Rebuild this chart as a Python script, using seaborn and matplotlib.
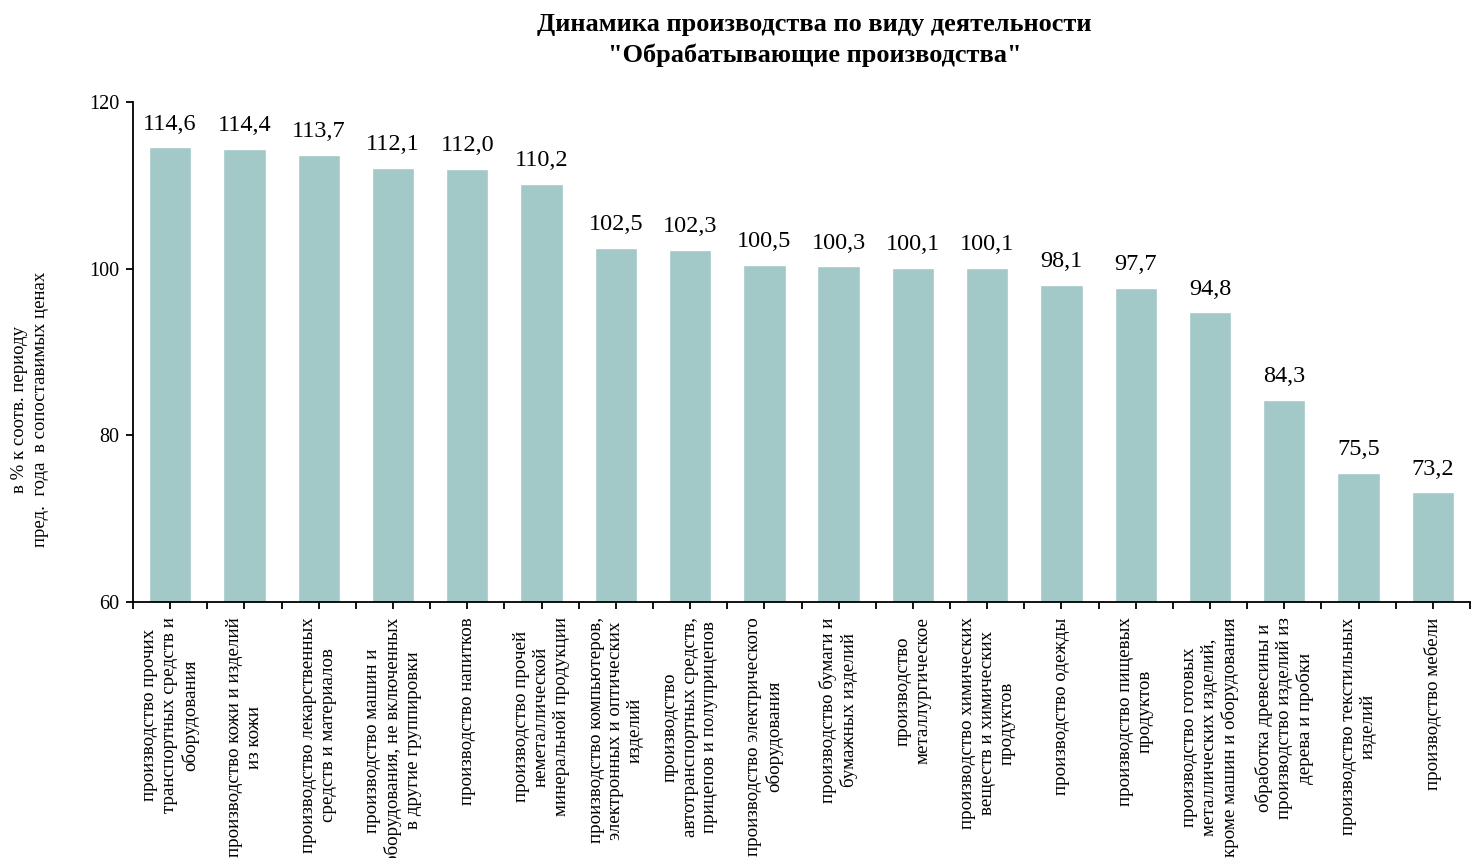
import numpy as np
import pandas as pd
import matplotlib
matplotlib.use('Agg')
import matplotlib.pyplot as plt
import seaborn as sns

# Данные
categories = [
    'производство прочих\nтранспортных средств и\nоборудования',
    'производство кожи и изделий\nиз кожи',
    'производство лекарственных\nсредств и материалов',
    'производство машин и\nоборудования, не включенных\nв другие группировки',
    'производство напитков',
    'производство прочей\nнеметаллической\nминеральной продукции',
    'производство компьютеров,\nэлектронных и оптических\nизделий',
    'производство\nавтотранспортных средств,\nприцепов и полуприцепов',
    'производство электрического\nоборудования',
    'производство бумаги и\nбумажных изделий',
    'производство\nметаллургическое',
    'производство химических\nвеществ и химических\nпродуктов',
    'производство одежды',
    'производство пищевых\nпродуктов',
    'производство готовых\nметаллических изделий,\nкроме машин и оборудования',
    'обработка древесины и\nпроизводство изделий из\nдерева и пробки',
    'производство текстильных\nизделий',
    'производство мебели',
]
values = [114.6, 114.4, 113.7, 112.1, 112.0, 110.2, 102.5, 102.3, 100.5,
          100.3, 100.1, 100.1, 98.1, 97.7, 94.8, 84.3, 75.5, 73.2]
y_ticks = [60, 80, 100, 120]

TITLE = 'Динамика производства по виду деятельности\n"Обрабатывающие производства"'
YLABEL = 'в % к соотв. периоду\nпред.  года  в сопоставимых ценах'
BAR_COLOR = '#A2C8C8'

sns.set_style('ticks')
plt.rcParams['font.family'] = ['Liberation Serif', 'DejaVu Serif']
plt.rcParams['text.color'] = 'black'
plt.rcParams['axes.labelcolor'] = 'black'
plt.rcParams['xtick.color'] = 'black'
plt.rcParams['ytick.color'] = 'black'

df = pd.DataFrame({'cat': categories, 'val': values})

fig, ax = plt.subplots(figsize=(14.78, 8.58), dpi=100)
fig.subplots_adjust(left=0.09, right=0.9946, top=0.881, bottom=0.2984)

sns.barplot(data=df, x='cat', y='val', color=BAR_COLOR, width=0.57,
            saturation=1, ax=ax)

ax.set_ylim(60, 120)
ax.set_xlim(-0.5, len(categories) - 0.5)
ax.set_yticks(y_ticks)
ax.set_yticklabels([str(t) for t in y_ticks], fontsize=14.5)
ax.set_xticks(range(len(categories)))
ax.set_xticklabels(categories, rotation=90, fontsize=13.7, ha='center', va='top')
ax.set_xticks(np.arange(-0.5, len(categories), 1), minor=True)
ax.tick_params(axis='x', which='both', length=5, width=1.3, direction='out', pad=6)
ax.tick_params(axis='y', length=5, width=1.3, direction='out', pad=5)

for side in ['top', 'right']:
    ax.spines[side].set_visible(False)
for side in ['left', 'bottom']:
    ax.spines[side].set_linewidth(1.3)
    ax.spines[side].set_color('black')

ax.bar_label(ax.containers[0], labels=[f'{v:.1f}'.replace('.', ',') for v in values],
             padding=9, fontsize=17.5, color='black')

ax.set_xlabel('')
ax.set_ylabel(YLABEL, fontsize=13.5, linespacing=1.3)
ax.yaxis.set_label_coords(-0.063, 0.385)

fig.text(0.551, 0.953, TITLE, ha='center', va='center', fontsize=19,
         fontweight='bold', linespacing=1.4)

fig.savefig('out.png', dpi=100)
